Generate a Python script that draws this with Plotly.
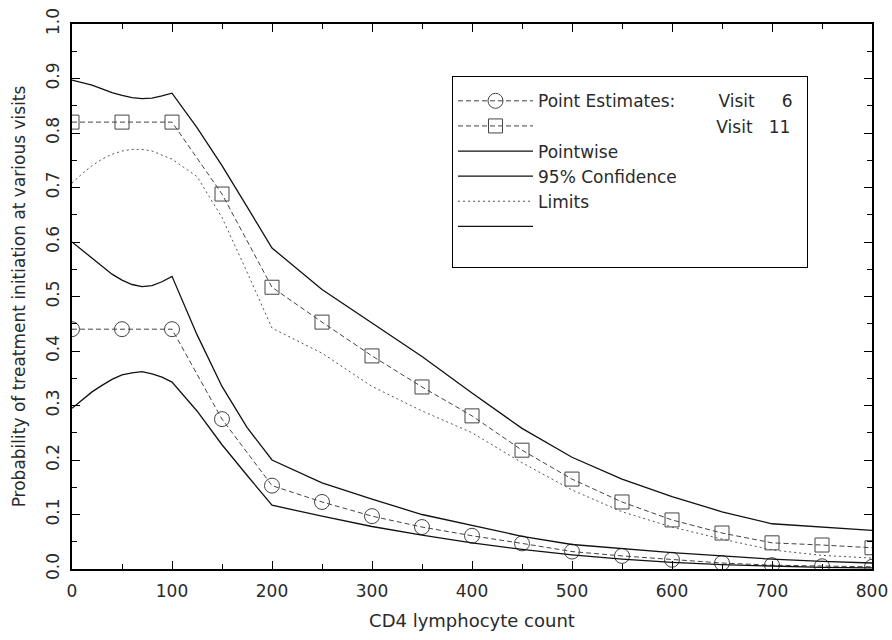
import plotly.graph_objects as go

# ---- data ----
cd4_points = [0, 50, 100, 150, 200, 250, 300, 350, 400, 450, 500, 550, 600, 650, 700, 750, 800]
visit6_est = [0.44, 0.44, 0.44, 0.275, 0.153, 0.123, 0.097, 0.077, 0.061, 0.047, 0.032, 0.024, 0.017, 0.011, 0.007, 0.005, 0.004]
visit11_est = [0.82, 0.82, 0.82, 0.688, 0.517, 0.453, 0.391, 0.334, 0.281, 0.218, 0.165, 0.123, 0.090, 0.066, 0.048, 0.044, 0.039]

cd4_ci = [0, 10, 20, 30, 40, 50, 60, 70, 80, 90, 100, 125, 150, 175, 200,
          250, 300, 350, 400, 450, 500, 550, 600, 650, 700, 750, 800]
visit6_upper = [0.600, 0.585, 0.570, 0.555, 0.541, 0.530, 0.522, 0.518, 0.520, 0.527, 0.537,
                0.430, 0.335, 0.260, 0.200,
                0.158, 0.128, 0.100, 0.080, 0.060, 0.045, 0.037, 0.030, 0.024, 0.018, 0.014, 0.011]
visit6_lower = [0.295, 0.310, 0.325, 0.337, 0.348, 0.356, 0.360, 0.362, 0.358, 0.352, 0.343,
                0.290, 0.228, 0.172, 0.117,
                0.097, 0.078, 0.062, 0.048, 0.036, 0.026, 0.018, 0.012, 0.008, 0.005, 0.003, 0.002]
visit11_upper = [0.897, 0.893, 0.888, 0.881, 0.874, 0.869, 0.865, 0.863, 0.864, 0.868, 0.873,
                 0.810, 0.740, 0.665, 0.589,
                 0.513, 0.452, 0.390, 0.323, 0.258, 0.205, 0.165, 0.133, 0.105, 0.083, 0.077, 0.071]
visit11_lower = [0.708, 0.725, 0.740, 0.752, 0.761, 0.767, 0.770, 0.770, 0.767, 0.760, 0.752,
                 0.720, 0.645, 0.545, 0.442,
                 0.396, 0.335, 0.290, 0.250, 0.195, 0.145, 0.105, 0.077, 0.055, 0.035, 0.025, 0.020]

x_ticks = [0, 100, 200, 300, 400, 500, 600, 700, 800]
y_ticks = [0.0, 0.1, 0.2, 0.3, 0.4, 0.5, 0.6, 0.7, 0.8, 0.9, 1.0]

NB = "\u00a0"
legend_names = ["Point" + NB + "Estimates:" + NB * 8 + "Visit" + NB * 5 + "6",
                NB * 33 + "Visit" + NB * 3 + "11" + NB * 2,
                "Pointwise", "95%" + NB + "Confidence", "Limits", NB + "<br>" + NB]

FONT = "DejaVu Sans"
TXT = "#2a2a2a"

fig = go.Figure()

fig.add_trace(go.Scatter(
    x=cd4_points, y=visit6_est, name=legend_names[0], mode="lines+markers",
    line=dict(color="#444", width=1, dash="5px,3px"),
    marker=dict(symbol="circle-open", size=15, color="#444", line=dict(width=1)),
    legendgroup="a"))
fig.add_trace(go.Scatter(
    x=cd4_points, y=visit11_est, name=legend_names[1], mode="lines+markers",
    line=dict(color="#444", width=1, dash="5px,3px"),
    marker=dict(symbol="square-open", size=14, color="#444", line=dict(width=1)),
    legendgroup="b"))
fig.add_trace(go.Scatter(
    x=cd4_ci, y=visit6_upper, name=legend_names[2], mode="lines",
    line=dict(color="#111", width=1.3), legendgroup="c"))
fig.add_trace(go.Scatter(
    x=cd4_ci, y=visit6_lower, name=legend_names[3], mode="lines",
    line=dict(color="#111", width=1.3), legendgroup="d"))
fig.add_trace(go.Scatter(
    x=cd4_ci, y=visit11_lower, name=legend_names[4], mode="lines",
    line=dict(color="#555", width=1, dash="2px,3px"), legendgroup="e"))
fig.add_trace(go.Scatter(
    x=cd4_ci, y=visit11_upper, name=legend_names[5], mode="lines",
    line=dict(color="#111", width=1.3), legendgroup="f"))

axis_common = dict(
    showline=True, linecolor="black", linewidth=1.5, mirror="allticks",
    ticks="inside", ticklen=8, tickcolor="black", tickwidth=1,
    showgrid=False, zeroline=False, ticklabeloverflow="allow", automargin=False,
    tickfont=dict(family=FONT, size=17, color=TXT),
)

fig.update_layout(
    width=892, height=640, autosize=False,
    margin=dict(l=72, r=20, t=24, b=71),
    plot_bgcolor="white", paper_bgcolor="white",
    font=dict(family=FONT, color=TXT),
    xaxis=dict(range=[0, 800], tickvals=x_ticks,
               minor=dict(ticks="inside", ticklen=5, tickcolor="black", dtick=50),
               ticklabelstandoff=6,
               title=dict(text="CD4 lymphocyte count", font=dict(family=FONT, size=18, color=TXT), standoff=14),
               **axis_common),
    yaxis=dict(range=[0, 1.0], tickvals=y_ticks, tickformat=".1f", tickangle=-90,
               minor=dict(ticks="inside", ticklen=5, tickcolor="black", dtick=0.05),
               ticklabelstandoff=4,
               title=dict(text="Probability of treatment initiation at various visits",
                          font=dict(family=FONT, size=17, color=TXT), standoff=14),
               **axis_common),
    legend=dict(x=0.475, y=0.905, xanchor="left", yanchor="top",
                bgcolor="white", bordercolor="black", borderwidth=1,
                font=dict(family=FONT, size=17, color=TXT),
                title=dict(text=NB, font=dict(size=5)),
                valign="top",
                itemwidth=75, tracegroupgap=0, traceorder="grouped"),
    showlegend=True,
)

fig.write_html(
    "out.html",
    config={"responsive": False, "displayModeBar": False},
    default_width="892px", default_height="640px",
    post_script="document.body.style.margin='0';document.body.style.overflow='hidden';",
)
